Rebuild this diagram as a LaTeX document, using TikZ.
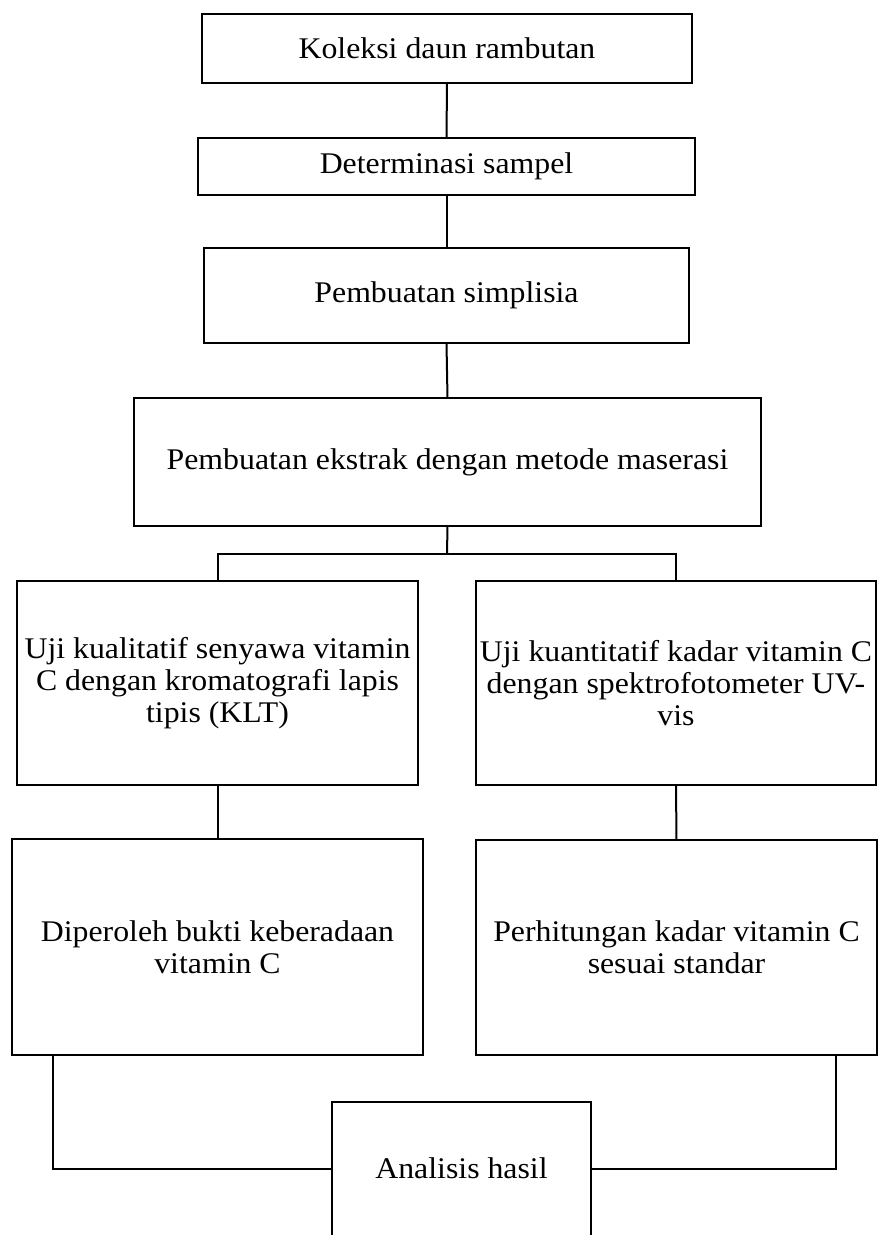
\documentclass[tikz,border=0pt]{standalone}
\usepackage{fontspec}
\setmainfont{Liberation Serif}[FakeStretch=1.06]
\begin{document}
\begin{tikzpicture}[x=1pt,y=-1pt,
  box/.style={draw, line width=2.4pt, inner sep=0pt, outer sep=0pt, align=center,
    font=\fontsize{30}{32}\selectfont},
  openbox/.style={inner sep=0pt, outer sep=0pt, align=center,
    font=\fontsize{30}{32}\selectfont},
  link/.style={line width=2pt}]
\useasboundingbox (0,0) rectangle (879,1235);
\node[box, minimum width=490pt, minimum height=69pt] (b1) at (447,48.5) {Koleksi daun rambutan};
\node[box, minimum width=497pt, minimum height=57pt] (b2) at (446.5,166.5) {Determinasi sampel};
\node[box, minimum width=485pt, minimum height=95pt] (b3) at (446.5,295.5) {Pembuatan simplisia};
\node[box, minimum width=627pt, minimum height=128pt] (b4) at (447.5,462) {Pembuatan ekstrak dengan metode maserasi};
\node[box, minimum width=401pt, minimum height=204pt] (b5l) at (217.5,683) {Uji kualitatif senyawa vitamin\\C dengan kromatografi lapis\\tipis (KLT)};
\node[box, minimum width=400pt, minimum height=204pt] (b5r) at (676,683) {Uji kuantitatif kadar vitamin C\\dengan spektrofotometer UV-\\vis};
\node[box, minimum width=411pt, minimum height=216pt] (b6l) at (217.5,947) {Diperoleh bukti keberadaan\\vitamin C};
\node[box, minimum width=401pt, minimum height=215pt] (b6r) at (676.5,947.5) {Perhitungan kadar vitamin C\\sesuai standar};
\node[openbox, minimum width=259pt, minimum height=133pt] (an) at (461.5,1168.5) {Analisis hasil};
\draw[line width=2.4pt] (an.south west) -- (an.north west) -- (an.north east) -- (an.south east);
\coordinate (split) at (447,554);
\draw[link] (b1.south) -- (b2.north);
\draw[link] (b2.south) -- (b3.north);
\draw[link] (b3.south) -- (b4.north);
\draw[link] (b4.south) -- (split);
\draw[link] (b5l.north) |- (split) -| (b5r.north);
\draw[link] (b5l.south) -- (b6l.north);
\draw[link] (b5r.south) -- (b6r.north);
\draw[link] ([xshift=41pt]b6l.south west) |- (an.west);
\draw[link] ([xshift=-41pt]b6r.south east) |- (an.east);
\end{tikzpicture}
\end{document}
